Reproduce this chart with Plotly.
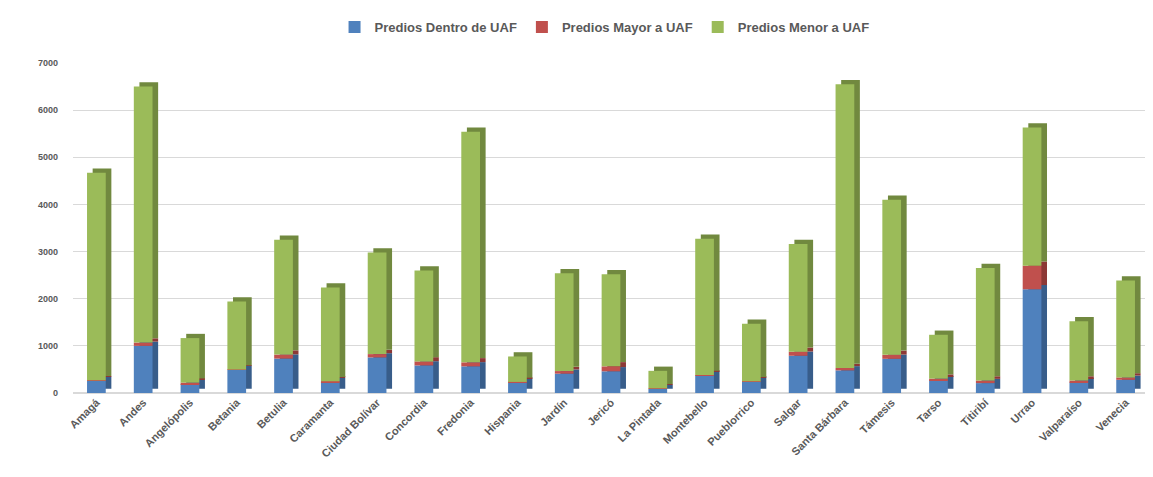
import numpy as np
import plotly.graph_objects as go

categories = ["Amagá", "Andes", "Angelópolis", "Betania", "Betulia", "Caramanta",
              "Ciudad Bolívar", "Concordia", "Fredonia", "Hispania", "Jardín", "Jericó",
              "La Pintada", "Montebello", "Pueblorrico", "Salgar", "Santa Bárbara",
              "Támesis", "Tarso", "Titiribí", "Urrao", "Valparaíso", "Venecia"]
dentro_uaf = [260, 1000, 190, 490, 730, 230, 755, 585, 565, 225, 410, 460, 85, 375, 245,
              790, 480, 725, 270, 210, 2200, 225, 280]
mayor_uaf = [10, 70, 30, 10, 85, 20, 70, 85, 85, 10, 55, 105, 15, 5, 5,
             85, 50, 85, 35, 55, 500, 40, 50]
menor_uaf = [4400, 5430, 945, 1440, 2435, 1990, 2155, 1930, 4890, 540, 2075, 1955, 370, 2890, 1220,
             2285, 6020, 3290, 930, 2385, 2930, 1255, 2055]
y_ticks = [0, 1000, 2000, 3000, 4000, 5000, 6000, 7000]

series = [
    ("Predios Dentro de UAF", dentro_uaf, "#4F81BD", "#385D8A"),
    ("Predios Mayor a UAF", mayor_uaf, "#C0504D", "#8C3836"),
    ("Predios Menor a UAF", menor_uaf, "#9BBB59", "#71893F"),
]

# 3D-like depth (extrusion) for the columns
DX = 0.12   # in category units
DY = 90     # in value units
W = 0.40
OFF = -0.20

fig = go.Figure()
base = np.zeros(len(categories))
bases = []
for name, vals, c, dc in series:
    bases.append(base.copy())
    base = base + np.array(vals, dtype=float)

# back/depth faces first
for (name, vals, c, dc), b in zip(series, bases):
    fig.add_trace(go.Bar(x=categories, y=vals, base=b + DY, width=W, offset=OFF + DX,
                         marker=dict(color=dc, line=dict(width=0)), showlegend=False,
                         hoverinfo="skip"))
# front faces
for (name, vals, c, dc), b in zip(series, bases):
    fig.add_trace(go.Bar(x=categories, y=vals, base=b, width=W, offset=OFF, name=name,
                         marker=dict(color=c, line=dict(width=0))))

fig.update_layout(
    width=1145, height=469,
    barmode="overlay",
    paper_bgcolor="white", plot_bgcolor="white",
    margin=dict(l=65, r=4, t=55, b=84, autoexpand=False),
    font=dict(family="Liberation Sans, Arial, sans-serif", color="#595959"),
    legend=dict(orientation="h", x=0.494, xanchor="center", y=1.109, yanchor="middle",
                font=dict(size=13, color="#595959", family="Liberation Sans, Arial, sans-serif", weight="bold"),
                traceorder="normal", itemwidth=30),
)
fig.update_xaxes(tickangle=-45, tickfont=dict(size=11, color="#595959", weight="bold"),
                 showgrid=False, showline=False, ticks="", range=[-0.5, 22.5], automargin=False)
fig.update_yaxes(range=[0, 7000], tickvals=y_ticks, tickfont=dict(size=9, color="#595959", weight="bold"),
                 showgrid=True, gridcolor="#D9D9D9", gridwidth=1, zeroline=True, zerolinecolor="#D9D9D9",
                 showline=False, ticks="", automargin=False, ticklabelstandoff=14)

fig.write_html("out.html")
